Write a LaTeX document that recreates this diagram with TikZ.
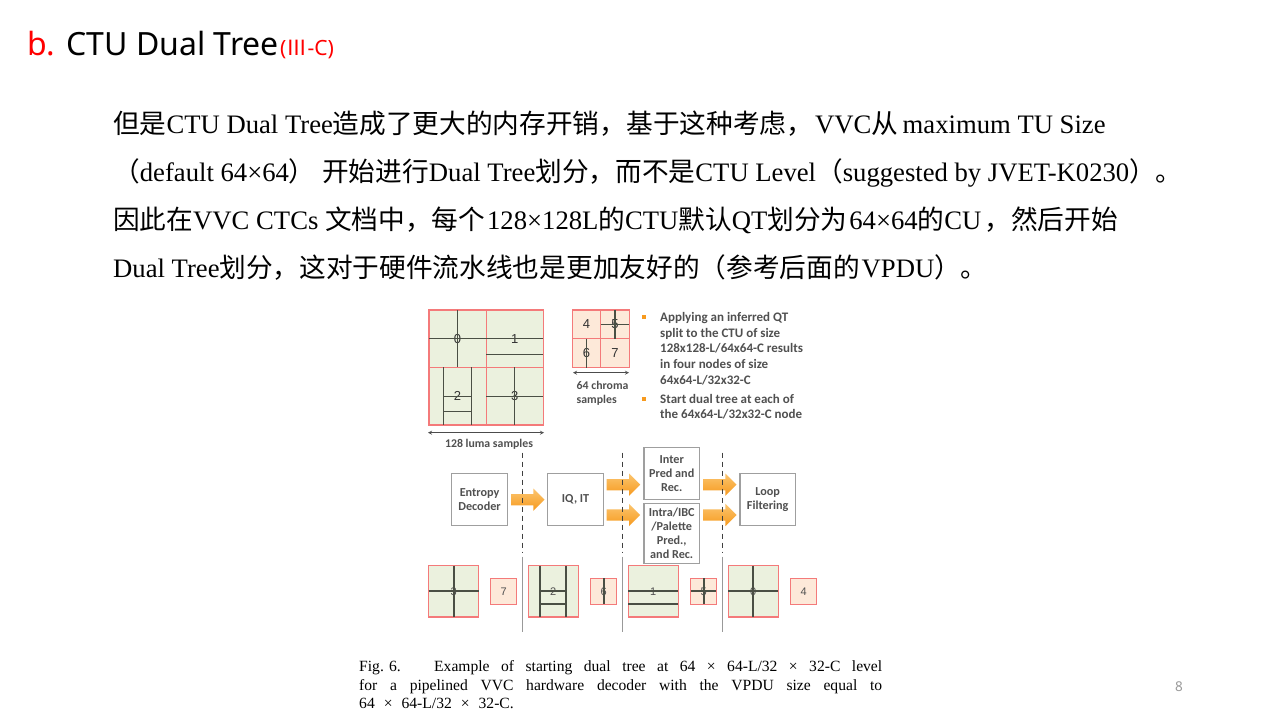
\documentclass[tikz,border=0pt]{standalone}
\usepackage{fontspec}
\setmainfont{Liberation Serif}
\newfontfamily\cjk{Noto Sans CJK SC}
\newfontfamily\titlefont{Noto Sans}
\newfontfamily\figfont{Carlito}
\newfontfamily\numfont{Liberation Sans}
\usepackage{xcolor}
\usetikzlibrary{shapes.arrows, arrows, positioning, calc}
\definecolor{lumafill}{HTML}{EBF1DE}
\definecolor{chromafill}{HTML}{FDE9D9}
\definecolor{redline}{HTML}{F47A7A}
\definecolor{splitline}{HTML}{4A4F44}
\definecolor{figtext}{HTML}{505050}
\definecolor{pipetop}{HTML}{FBC56F}
\definecolor{pipelow}{HTML}{F79A1E}
\newcommand{\zh}[1]{{\cjk #1}}
\newcommand{\sz}[1]{\fontsize{#1}{#1}\selectfont}
\newcommand{\capx}{\hspace{9pt}×\hspace{9pt}}

\begin{document}
\begin{tikzpicture}[
  x=1pt, y=-1pt,
  bodyline/.style={anchor=base west, inner sep=0pt, font=\sz{26.67}},
  qtbox/.style={rectangle, draw=redline, line width=1.2pt, inner sep=0pt, outer sep=0pt, font=\numfont\sz{11}, text=figtext},
  lumabox/.style={qtbox, fill=lumafill, minimum width=57.2pt, minimum height=57.5pt, font=\numfont\sz{13}, text=black!80},
  chromabox/.style={qtbox, fill=chromafill, minimum width=28.5pt, minimum height=28.8pt, font=\numfont\sz{13}, text=black!80},
  lumalow/.style={qtbox, fill=lumafill, minimum width=50.3pt, minimum height=51.3pt},
  chromalow/.style={qtbox, fill=chromafill, minimum width=25.5pt, minimum height=25.7pt},
  split/.style={draw=splitline, line width=1.1pt},
  splitlow/.style={draw=splitline, line width=1.8pt},
  stagebox/.style={rectangle, draw=gray!75, line width=1.1pt, fill=white, inner sep=0pt, outer sep=0pt, minimum width=55.5pt, align=center, font=\figfont\bfseries\fontsize{12.2}{14}\selectfont, text=figtext},
  pipearrow/.style={single arrow, anchor=tail, single arrow head extend=5.5pt, minimum width=22pt, minimum height=33.5pt, inner xsep=0pt, inner ysep=5.5pt, outer sep=0pt, top color=pipetop, bottom color=pipelow, draw=none},
  figlabel/.style={anchor=base west, inner sep=0pt, font=\figfont\bfseries\sz{13}, text=figtext},
  sizelabel/.style={figlabel, font=\figfont\bfseries\sz{11.8}},
  bulletdot/.style={rectangle, fill=pipelow, minimum size=3.4pt, inner sep=0pt},
  dim/.style={<->, >=stealth, line width=0.8pt, draw=black!70}
]
\useasboundingbox (0,0) rectangle (1280,720);
\fill[white] (0,0) rectangle (1280,720);
% title
\node[anchor=base west, inner sep=0pt, font=\titlefont\sz{32}] (title) at (27,55.5) {\textcolor{red}{b.} CTU Dual Tree};
\node[inner sep=0pt, font=\titlefont\sz{21}, text=red, right=1pt of title.base east, anchor=base west] (titleref) {(\zh{Ⅲ}-C)};
% body text
\node[bodyline] (lineA) at (113,133) {\zh{但是}CTU Dual Tree\zh{造成了更大的内存开销，基于这种考虑，}\kern2pt VVC\zh{从}\kern-2pt{} maximum TU Size};
\node[bodyline] (lineB) at (113,181) {\zh{（}default 64×64\zh{）} \zh{开始进行}Dual Tree\zh{划分，而不是}CTU Level\zh{（}suggested by JVET-K0230\zh{）。}};
\node[bodyline] (lineC) at (113,229) {\zh{因此在}VVC CTCs \zh{文档中，每个}\kern2pt 128×128L\zh{的}CTU\zh{默认}QT\zh{划分为}\kern2pt 64×64\zh{的}CU\kern3pt\zh{，然后开始}};
\node[bodyline] (lineD) at (113,277) {Dual Tree\zh{划分，这对于硬件流水线也是更加友好的（参考后面的}\kern2pt VPDU\zh{）。}};
% luma ctu
\node[lumabox] (lumaA) at (457.6,338.7) {0};
\node[lumabox] (lumaB) at (514.8,338.7) {1};
\node[lumabox] (lumaC) at (457.6,396.2) {2};
\node[lumabox] (lumaD) at (514.8,396.2) {3};
\draw[split] (lumaA.north) -- (lumaA.south);
\draw[split] (lumaA.west) -- (lumaA.east);
\draw[split] (lumaB.west) -- (lumaB.east);
\draw[split] ($(lumaB.west)!0.55!(lumaB.south west)$) -- ($(lumaB.east)!0.55!(lumaB.south east)$);
\draw[split] ($(lumaC.north)!0.5!(lumaC.north west)$) -- ($(lumaC.south)!0.5!(lumaC.south west)$);
\draw[split] ($(lumaC.north)!0.5!(lumaC.north east)$) -- ($(lumaC.south)!0.5!(lumaC.south east)$);
\draw[split] ($(lumaC.center)!0.5!(lumaC.west)$) -- ($(lumaC.center)!0.5!(lumaC.east)$);
\draw[split] ($(lumaC.center)!0.5!(lumaC.west)+(0,15.5)$) -- ($(lumaC.center)!0.5!(lumaC.east)+(0,15.5)$);
\draw[split] (lumaD.north) -- (lumaD.south);
\draw[split] (lumaD.west) -- (lumaD.east);
% chroma ctu
\node[chromabox] (chromaA) at (586.5,324.3) {4};
\node[chromabox] (chromaB) at (615,324.3) {5};
\node[chromabox] (chromaC) at (586.5,353.1) {6};
\node[chromabox] (chromaD) at (615,353.1) {7};
\draw[split] (chromaB.north) -- (chromaB.south);
\draw[split] (chromaB.west) -- (chromaB.east);
\draw[split] (chromaC.north) -- (chromaC.south);
% sizes
\coordinate (lumaDimL) at (428,432.7);
\coordinate (lumaDimR) at (544,432.7);
\coordinate (chromaDimL) at (573,372.7);
\coordinate (chromaDimR) at (629,372.7);
\draw[dim] (lumaDimL) -- (lumaDimR);
\draw[dim] (chromaDimL) -- (chromaDimR);
\node[sizelabel, anchor=base] (lumaText) at (489,447) {128 luma samples};
\node[sizelabel] (chromaTextA) at (576.5,389) {64 chroma};
\node[sizelabel] (chromaTextB) at (576.5,403) {samples};
% notes
\node[bulletdot] (dotA) at (644,317) {};
\node[bulletdot] (dotB) at (644,399) {};
\node[figlabel] (noteA) at (660,321.3) {Applying an inferred QT};
\node[figlabel] (noteB) at (660,337) {split to the CTU of size};
\node[figlabel] (noteC) at (660,352.7) {128x128-L/64x64-C results};
\node[figlabel] (noteD) at (660,368) {in four nodes of size};
\node[figlabel] (noteE) at (660,384.7) {64x64-L/32x32-C};
\node[figlabel] (noteF) at (660,403) {Start dual tree at each of};
\node[figlabel] (noteG) at (660,418.7) {the 64x64-L/32x32-C node};
% pipeline
\node[stagebox, minimum height=51.6pt] (entropy) at (479.6,499.5) {Entropy\\Decoder};
\node[stagebox, minimum height=51.6pt, right=40.4pt of entropy] (iqit) {IQ, IT};
\node[stagebox, minimum height=52pt] (inter) at (671.7,473.7) {Inter\\Pred and\\Rec.};
\node[stagebox, minimum height=59.7pt] (intra) at (671.7,533.2) {Intra/IBC\\/Palette\\Pred.,\\and Rec.};
\node[stagebox, minimum height=51.6pt] (loop) at (767.7,499.5) {Loop\\Filtering};
\node[pipearrow] (arrowA) at (511,499.7) {};
\node[pipearrow] (arrowB) at (606.7,484.7) {};
\node[pipearrow] (arrowC) at (606.7,515) {};
\node[pipearrow] (arrowD) at (703,484.7) {};
\node[pipearrow] (arrowE) at (703,515) {};
\foreach \cut/\x in {cutA/522.5, cutB/622.5, cutC/722.5} {
  \coordinate (\cut top) at (\x,452.7);
  \coordinate (\cut mid) at (\x,553.3);
  \coordinate (\cut low) at (\x,556.7);
  \coordinate (\cut end) at (\x,631.7);
  \draw[black!75, line width=1.3pt, dash pattern=on 5pt off 4pt] (\cut top) -- (\cut mid);
  \draw[gray!80, line width=1pt] (\cut low) -- (\cut end);
}
% lower row
\node[lumalow] (rowA) at (453.7,591.3) {3};
\node[chromalow, right=12pt of rowA] (rowB) {7};
\node[lumalow, right=11.8pt of rowB] (rowC) {2};
\node[chromalow, right=12.4pt of rowC] (rowD) {6};
\node[lumalow, right=11.8pt of rowD] (rowE) {1};
\node[chromalow, right=12.4pt of rowE] (rowF) {5};
\node[lumalow, right=11.8pt of rowF] (rowG) {0};
\node[chromalow, right=12.4pt of rowG] (rowH) {4};
\draw[splitlow] (rowA.north) -- (rowA.south);
\draw[splitlow] (rowA.west) -- (rowA.east);
\draw[splitlow] ($(rowC.north)!0.53!(rowC.north west)$) -- ($(rowC.south)!0.53!(rowC.south west)$);
\draw[splitlow] ($(rowC.north)!0.5!(rowC.north east)$) -- ($(rowC.south)!0.5!(rowC.south east)$);
\draw[splitlow] ($(rowC.center)!0.53!(rowC.west)$) -- ($(rowC.center)!0.5!(rowC.east)$);
\draw[splitlow] ($(rowC.center)!0.53!(rowC.west)+(0,13)$) -- ($(rowC.center)!0.5!(rowC.east)+(0,13)$);
\draw[splitlow] (rowD.north) -- (rowD.south);
\draw[splitlow] (rowE.west) -- (rowE.east);
\draw[splitlow] ($(rowE.west)!0.5!(rowE.south west)$) -- ($(rowE.east)!0.5!(rowE.south east)$);
\draw[splitlow] (rowF.north) -- (rowF.south);
\draw[splitlow] (rowF.west) -- (rowF.east);
\draw[splitlow] (rowG.north) -- (rowG.south);
\draw[splitlow] (rowG.west) -- (rowG.east);
% caption
\node[anchor=north west, inner sep=0pt, text width=523pt, align=justify, font=\fontsize{15.6}{18.5}\selectfont] (caption) at (359,660.5) {\makebox[75pt][l]{Fig. 6.}Example of starting dual tree at 64 × 64-L/32 × 32-C level\linebreak for a pipelined VVC hardware decoder with the VPDU size equal to\linebreak 64\capx 64-L/32\capx 32-C.};
\node[font=\titlefont\sz{13.5}, text=gray!80, inner sep=0pt] (pagenum) at (1179,687) {8};
\end{tikzpicture}
\end{document}
